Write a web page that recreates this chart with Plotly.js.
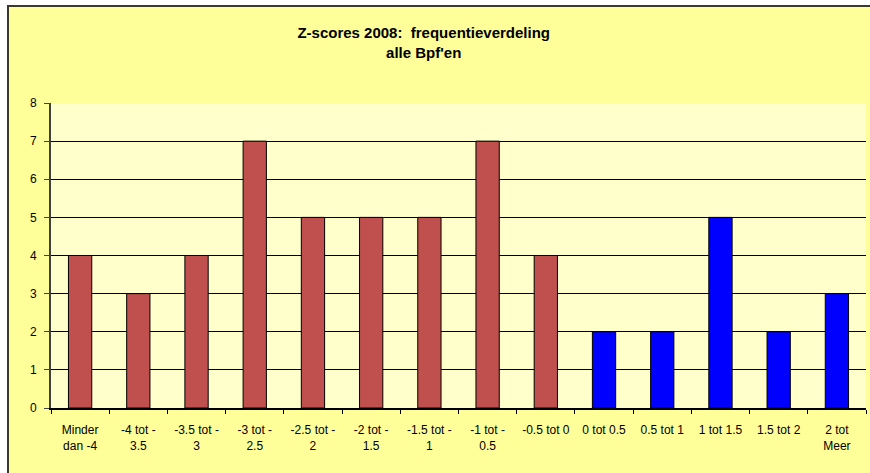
<!DOCTYPE html>
<html>
<head>
<meta charset="utf-8">
<script src="https://cdn.plot.ly/plotly-3.0.1.min.js"></script>
<style>html,body{margin:0;padding:0;background:#fff;}#chart{width:870px;height:473px;}</style>
</head>
<body>
<div id="chart"></div>
<script>
const categories = ["Minder<br>dan -4", "-4 tot -<br>3.5", "-3.5 tot -<br>3", "-3 tot -<br>2.5", "-2.5 tot -<br>2", "-2 tot -<br>1.5", "-1.5 tot -<br>1", "-1 tot -<br>0.5", "-0.5 tot 0", "0 tot 0.5", "0.5 tot 1", "1 tot 1.5", "1.5 tot 2", "2 tot<br>Meer"];
const counts = [4, 3, 4, 7, 5, 5, 5, 7, 4, 2, 2, 5, 2, 3];
const barColors = ["#C0504D","#C0504D","#C0504D","#C0504D","#C0504D","#C0504D","#C0504D","#C0504D","#C0504D","#0000FF","#0000FF","#0000FF","#0000FF","#0000FF"];
const yTicks = [0, 1, 2, 3, 4, 5, 6, 7, 8];

const L = 51, R = 866, T = 103, B = 408, W = 870, H = 473;
const pw = R - L, ph = B - T;
const px = v => (v - L) / pw;
const py = v => (B - v) / ph;

const trace = {
  type: 'bar',
  x: categories,
  y: counts,
  marker: {color: barColors, line: {color: '#000000', width: 1}},
  hoverinfo: 'x+y'
};

const layout = {
  width: W, height: H,
  margin: {l: L, r: W - R, t: T, b: H - B, pad: 0},
  paper_bgcolor: '#FFFF99',
  plot_bgcolor: '#FFFFCC',
  bargap: 0.6,
  showlegend: false,
  font: {family: 'Liberation Sans, Arial, sans-serif', size: 11, color: '#000'},
  title: {
    text: '<b>Z-scores 2008:  frequentieverdeling<br>alle Bpf\'en</b>',
    xref: 'container', x: 0.487, xanchor: 'center',
    yref: 'container', y: 1 - 38 / H, yanchor: 'middle',
    font: {family: 'Liberation Sans, Arial, sans-serif', size: 15, color: '#000'}
  },
  xaxis: {
    type: 'category',
    tickson: 'boundaries',
    ticks: 'outside', ticklen: 4, tickcolor: '#000', tickwidth: 1,
    showline: true, linecolor: '#000', linewidth: 2,
    showgrid: false,
    tickfont: {size: 12},
    ticklabelstandoff: 10,
    fixedrange: true
  },
  yaxis: {
    range: [0, 8],
    tickvals: yTicks,
    ticks: 'outside', ticklen: 5, tickcolor: '#404040', tickwidth: 1,
    showline: true, linecolor: '#404040', linewidth: 2,
    showgrid: true, gridcolor: '#000', gridwidth: 1,
    zeroline: false,
    tickfont: {size: 12},
    ticklabelstandoff: 5,
    fixedrange: true
  },
  shapes: [
    {type: 'rect', xref: 'paper', yref: 'paper', x0: px(-5), x1: px(7), y0: py(480), y1: py(-5), fillcolor: '#FFFFFF', line: {width: 0}, layer: 'above'},
    {type: 'rect', xref: 'paper', yref: 'paper', x0: px(-5), x1: px(880), y0: py(5), y1: py(-5), fillcolor: '#FFFFFF', line: {width: 0}, layer: 'above'},
    {type: 'line', xref: 'paper', yref: 'paper', x0: px(8), x1: px(8), y0: py(480), y1: py(5), line: {color: '#3a3a2a', width: 2}, layer: 'above'},
    {type: 'line', xref: 'paper', yref: 'paper', x0: px(7), x1: px(880), y0: py(6), y1: py(6), line: {color: '#3a3a2a', width: 2}, layer: 'above'}
  ]
};

Plotly.newPlot('chart', [trace], layout, {displayModeBar: false, staticPlot: true});
</script>
</body>
</html>
